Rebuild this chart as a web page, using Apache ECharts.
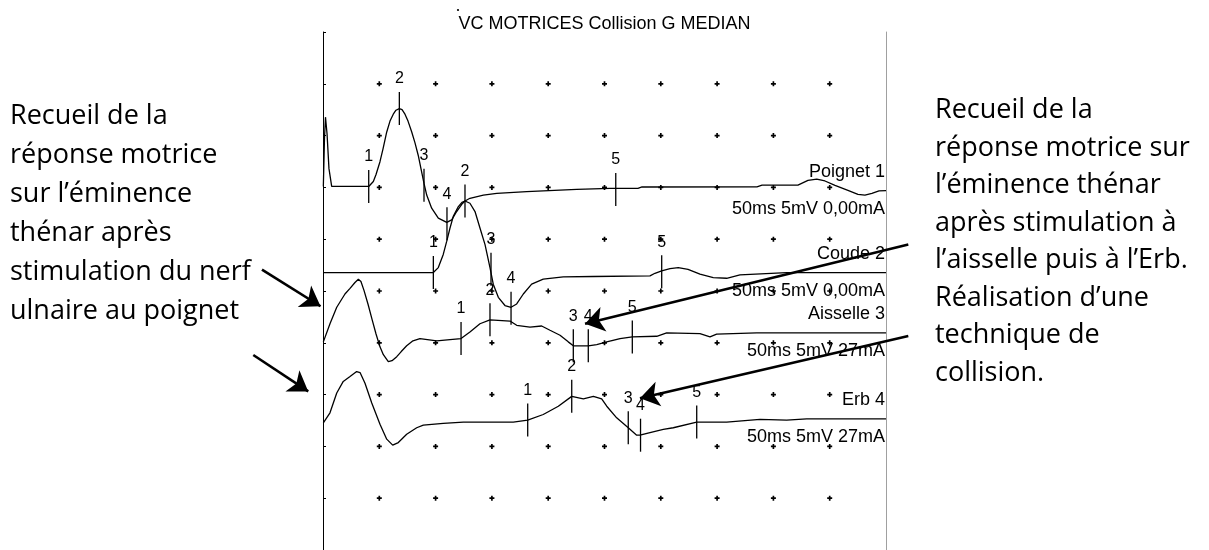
<!DOCTYPE html>
<html>
<head>
<meta charset="utf-8">
<script src="https://cdn.jsdelivr.net/npm/echarts@6/dist/echarts.min.js"></script>
<style>
html, body { margin: 0; padding: 0; background: #fff; }
#chart { width: 1209px; height: 550px; }
</style>
</head>
<body>
<div id="chart"></div>
<script>
// temps en ms (50 ms sur 10 divisions), amplitude en mV (5 mV / division), traces décalées
var gridTicksX = [5, 10, 15, 20, 25, 30, 35, 40, 45];
var gridTicksY = [5, 10, 15, 20, 25, 30, 35, 40, 45];

var poignet = [[0.03,35.09],[0.13,39.68],[0.22,41.78],[0.36,40.16],[0.53,36.81],[0.77,35.09],[4.06,35.09],[4.47,35.57],[4.71,36.24],[5.06,37.48],[5.33,38.72],[5.66,40.35],[5.95,41.40],[6.24,42.07],[6.48,42.45],[6.78,42.61],[7.02,42.50],[7.28,42.07],[7.55,41.40],[7.88,40.35],[8.17,39.30],[8.46,38.08],[8.70,36.81],[8.97,35.38],[9.21,34.26],[9.65,32.99],[10.24,32.03],[10.99,31.62],[11.43,31.87],[11.87,32.67],[12.32,33.37],[12.61,33.69],[13.05,33.95],[14.24,34.26],[15.43,34.42],[18.09,34.59],[21.05,34.74],[22.53,34.81],[25.49,34.90],[27.97,34.90],[28.33,35.04],[38.54,35.06],[38.99,35.22],[42.18,35.22],[43.07,35.67],[43.85,35.79],[44.58,35.62],[45.47,35.19],[46.62,34.71],[47.51,34.33],[48.13,34.26],[48.75,34.42],[49.38,34.66],[50,34.68]];
var coude = [[0,26.78],[9.80,26.78],[10.24,27.26],[10.68,28.53],[10.99,29.81],[11.28,31.08],[11.57,32.20],[12.02,33.15],[12.34,33.56],[12.61,33.69],[13.05,33.47],[13.50,32.67],[13.94,31.08],[14.39,29.48],[14.83,27.26],[15.12,25.66],[15.57,24.39],[16.16,23.60],[16.70,23.43],[17.20,23.75],[17.79,24.71],[18.53,25.66],[19.56,26.14],[21.34,26.37],[24.01,26.40],[29.04,26.46],[29.48,26.71],[30.08,26.94],[30.82,27.16],[31.55,27.26],[32.42,27.09],[33.48,26.62],[34.66,26.30],[35.85,26.23],[37.03,26.56],[41.18,26.78],[50,26.78]];
var aisselle = [[0.03,20.09],[0.62,21.84],[1.22,23.43],[1.95,24.71],[2.40,25.25],[2.84,25.82],[3.14,26.14],[3.37,25.92],[3.64,25.06],[4.00,23.72],[4.35,22.29],[4.71,20.85],[5.06,19.61],[5.36,18.85],[5.80,18.18],[6.13,18.27],[6.55,18.66],[6.93,19.13],[7.43,19.71],[7.99,20.19],[8.61,20.41],[10.10,20.19],[11.28,20.31],[12.26,20.41],[13.05,21.05],[13.94,21.84],[14.83,22.22],[16.61,22.10],[17.20,21.69],[18.38,21.52],[19.42,21.62],[20.16,21.21],[21.05,20.73],[21.78,20.09],[22.23,19.71],[23.56,19.71],[24.31,19.83],[25.20,20.09],[26.38,20.41],[27.47,20.57],[29.64,20.63],[30.52,20.95],[33.48,20.88],[34.37,20.57],[34.96,20.83],[38.52,20.95],[50,20.95]];
var erb = [[0.03,12.28],[0.62,13.24],[1.22,15.15],[1.80,16.27],[2.40,16.74],[2.99,17.22],[3.29,17.13],[3.73,16.10],[4.33,14.19],[5.06,12.13],[5.66,10.70],[6.19,10.12],[6.69,10.37],[7.43,11.17],[8.32,11.80],[8.91,12.06],[10.68,12.22],[12.46,12.35],[16.90,12.35],[18.18,12.54],[19.56,13.08],[20.90,13.88],[22.09,14.83],[23.12,14.58],[24.01,14.83],[24.75,14.58],[25.20,13.88],[26.08,12.76],[27.11,11.80],[27.86,11.08],[28.15,11.08],[29.04,11.33],[30.22,11.65],[31.11,11.80],[33.19,12.35],[35.85,12.35],[38.81,12.61],[41.18,12.54],[42.96,12.66],[50,12.66]];

// repères (x, y, numéro)
var poignetMarks = [[4.06,35.09,'1'],[6.78,42.61,'2'],[8.97,35.20,'3'],[11.01,31.50,'4'],[26.00,34.80,'5']];
var coudeMarks = [[9.80,26.78,'1'],[12.61,33.69,'2'],[14.92,27.09,'3'],[16.70,23.34,'4'],[30.08,26.87,'5']];
var aisselleMarks = [[12.26,20.41,'1'],[14.83,22.22,'2'],[22.23,19.71,'3'],[23.56,19.71,'4'],[27.47,20.57,'5']];
var erbMarks = [[18.18,12.54,'1'],[22.09,14.83,'2'],[27.11,11.80,'3'],[28.20,11.08,'4'],[33.19,12.35,'5']];

var traceNames = ['Poignet 1', 'Coude 2', 'Aisselle 3', 'Erb 4'];
var traceSettings = ['50ms 5mV 0,00mA', '50ms 5mV 0,00mA', '50ms 5mV 27mA', '50ms 5mV 27mA'];
var traceEnds = [34.68, 26.78, 20.95, 12.66];

// flèches d'annotation (départ -> pointe)
var arrows = [
  [[-5.42, 27.07], [-0.22, 23.53]],
  [[-6.19, 18.82], [-1.31, 15.31]],
  [[51.98, 29.48], [23.27, 21.84]],
  [[51.98, 20.66], [28.15, 14.64]]
];

var leftText = ['Recueil de la', 'réponse motrice', 'sur l\u2019éminence', 'thénar après', 'stimulation du nerf', 'ulnaire au poignet'];
var rightText = ['Recueil de la', 'réponse motrice sur', 'l\u2019éminence thénar', 'après stimulation à', 'l\u2019aisselle puis à l\u2019Erb.', 'Réalisation d\u2019une', 'technique de', 'collision.'];

var FONT = 'Liberation Sans, Arial, sans-serif';

var dots = [];
gridTicksX.forEach(function (x) {
  gridTicksY.forEach(function (y) { dots.push([x, y]); });
});

var chart = echarts.init(document.getElementById('chart'));

function traceSeries(data) {
  return {
    type: 'line',
    data: data,
    showSymbol: false,
    smooth: false,
    lineStyle: { color: '#000', width: 1.3 },
    z: 3
  };
}

function markSeries(marks) {
  return {
    type: 'scatter',
    data: marks.map(function (m) { return { value: [m[0], m[1]], name: m[2] }; }),
    symbol: 'rect',
    symbolSize: [1.3, 33],
    itemStyle: { color: '#000', opacity: 1 },
    label: {
      show: true,
      position: 'top',
      distance: 5,
      formatter: function (p) { return p.name; },
      color: '#000',
      fontFamily: FONT,
      fontSize: 16
    },
    z: 4
  };
}

var nameData = [];
traceNames.forEach(function (n, i) {
  nameData.push({ value: [50, traceEnds[i]], label: { formatter: n, offset: [0, -19] } });
  nameData.push({ value: [50, traceEnds[i]], label: { formatter: traceSettings[i], offset: [0, 18] } });
});

var option = {
  animation: false,
  backgroundColor: '#fff',
  title: {
    text: 'VC MOTRICES Collision G MEDIAN',
    left: 'center',
    top: 10,
    textStyle: { fontFamily: FONT, fontSize: 18, fontWeight: 'normal', color: '#000' }
  },
  grid: { left: 323, top: 32, width: 563, height: 523 },
  xAxis: {
    type: 'value', min: 0, max: 50, interval: 5, position: 'top',
    axisLine: { show: true, lineStyle: { color: '#000', width: 1 } },
    axisTick: { show: true, inside: true, length: 3, lineStyle: { color: '#000' } },
    axisLabel: { show: false },
    splitLine: { show: false }
  },
  yAxis: [{
    type: 'value', min: 0, max: 50, interval: 5, position: 'left',
    axisLine: { show: true, lineStyle: { color: '#000', width: 1 } },
    axisTick: { show: true, inside: true, length: 3, lineStyle: { color: '#000' } },
    axisLabel: { show: false },
    splitLine: { show: false }
  }, {
    type: 'value', min: 0, max: 50, interval: 5, position: 'right',
    axisLine: { show: true, lineStyle: { color: '#a0a0a0', width: 1 } },
    axisTick: { show: false },
    axisLabel: { show: false },
    splitLine: { show: false }
  }],
  graphic: [
    {
      type: 'text', left: 10, top: 97,
      style: { text: leftText.join('\n'), font: '27px "Open Sans", sans-serif', lineHeight: 39, fill: '#000' }
    },
    {
      type: 'text', left: 935, top: 92,
      style: { text: rightText.join('\n'), font: '27px "Open Sans", sans-serif', lineHeight: 37.5, fill: '#000' }
    },
    { type: 'circle', shape: { cx: 458, cy: 10, r: 1.1 }, style: { fill: '#000' } }
  ],
  series: [
    {
      type: 'scatter',
      data: dots,
      symbol: 'path://M2,0H4V2H6V4H4V6H2V4H0V2H2Z',
      symbolSize: 5,
      itemStyle: { color: '#000', opacity: 1 },
      silent: true,
      z: 1
    },
    traceSeries(poignet),
    traceSeries(coude),
    traceSeries(aisselle),
    traceSeries(erb),
    markSeries(poignetMarks),
    markSeries(coudeMarks),
    markSeries(aisselleMarks),
    markSeries(erbMarks),
    {
      type: 'scatter',
      data: nameData,
      symbolSize: 0,
      itemStyle: { opacity: 1 },
      label: {
        show: true,
        position: 'left',
        distance: 1,
        color: '#000',
        fontFamily: FONT,
        fontSize: 18
      },
      z: 5
    },
    {
      type: 'lines',
      coordinateSystem: 'cartesian2d',
      clip: false,
      data: arrows.map(function (a) { return { coords: a }; }),
      symbol: ['none', 'arrow'],
      symbolSize: [15, 19],
      lineStyle: { color: '#000', width: 2.6, opacity: 1 },
      z: 6
    }
  ]
};

chart.setOption(option);
</script>
</body>
</html>
